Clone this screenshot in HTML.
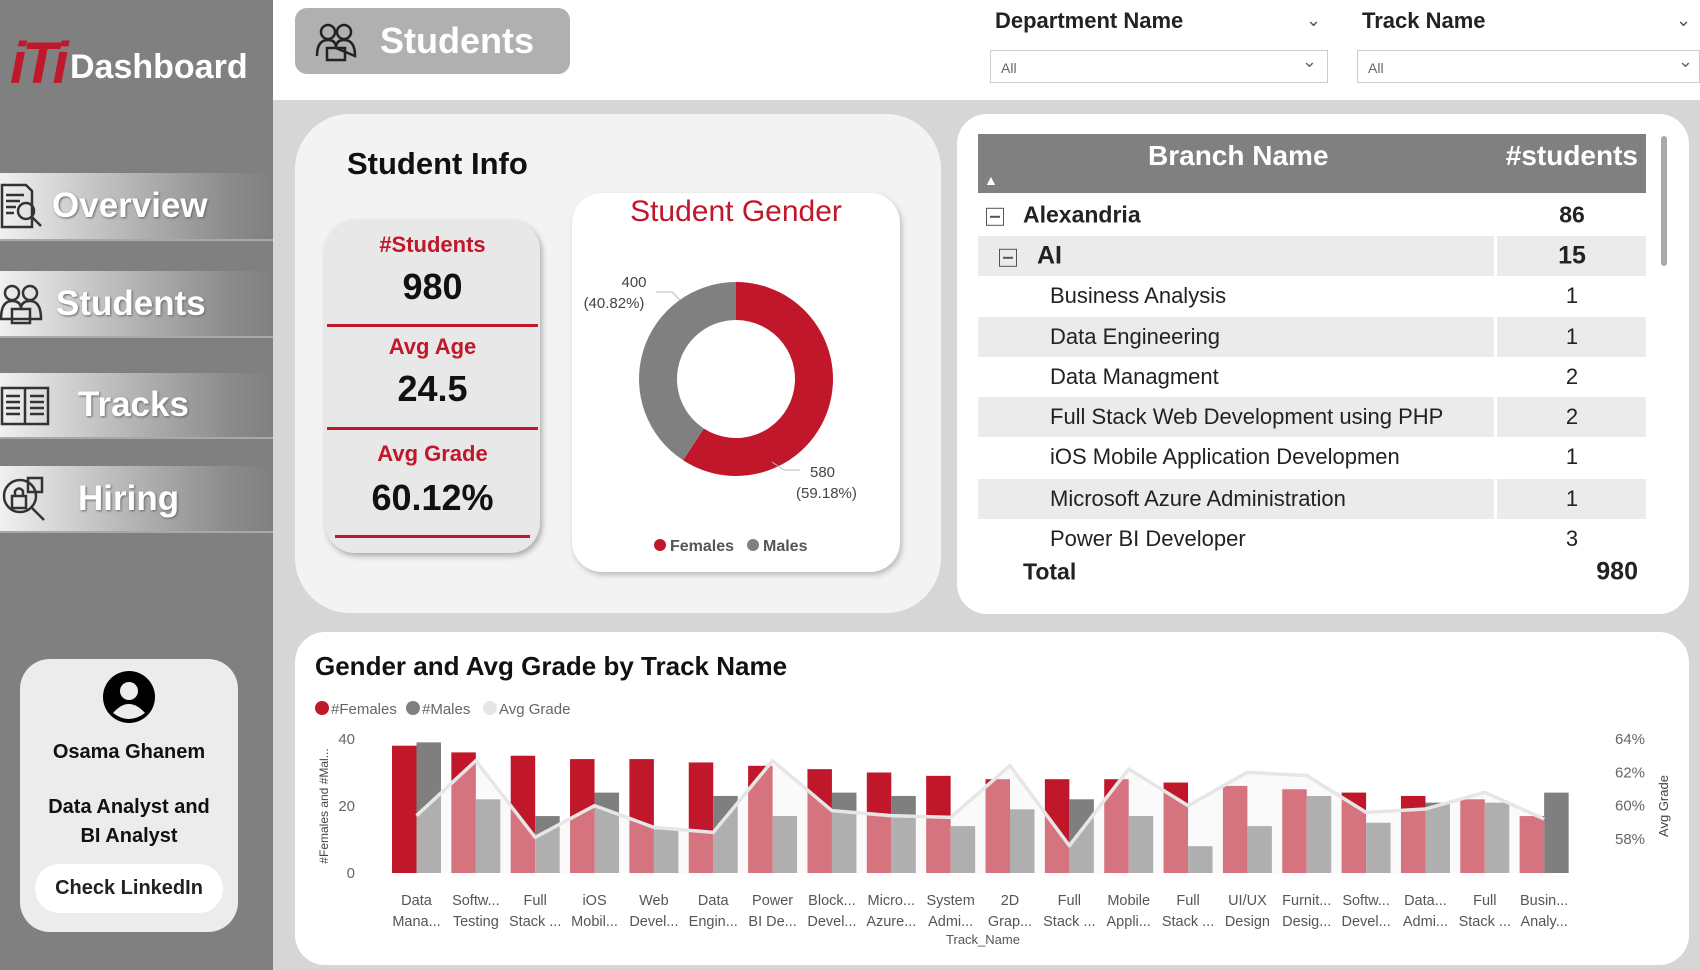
<!DOCTYPE html>
<html><head><meta charset="utf-8"><style>
*{margin:0;padding:0;box-sizing:border-box}
body{width:1700px;height:970px;position:relative;background:#d6d6d6;font-family:"Liberation Sans",sans-serif;overflow:hidden}
.abs{position:absolute}
.nav{position:absolute;left:0;width:273px;background:linear-gradient(90deg,#f0f0f0 0%,#b8b8b8 45%,#8a8a8a 85%,#808080 100%);border-bottom:2px solid #a8a8a8}
.nav span{position:absolute;color:#fff;font-weight:bold;font-size:35px;text-shadow:1px 1px 2px #666;top:50%;transform:translateY(-50%)}
.nav svg{position:absolute;left:0;top:50%;transform:translateY(-50%)}
.row{position:absolute;left:978px;width:668px;height:40px;font-size:22px;color:#222}
.row.g{background:#ebebeb}
.row .t{position:absolute;top:50%;transform:translateY(-50%)}
.row .n{position:absolute;left:1572px;top:50%;transform:translate(-50%,-50%)}
.box{position:absolute;width:18px;height:18px;border:1.5px solid #555;top:50%;transform:translateY(-40%)}
.box:after{content:"";position:absolute;left:3px;right:3px;top:7px;height:1.5px;background:#555}
</style></head><body>
<div class="abs" style="left:0;top:0;width:273px;height:970px;background:#808080"></div>
<div class="abs" style="left:10px;top:30px;font-size:58px;font-weight:bold;color:#c0182a;font-style:italic;letter-spacing:-4px">iTi</div>
<div class="abs" style="left:70px;top:48px;font-size:34px;font-weight:bold;color:#fff">Dashboard</div>
<div class="nav" style="top:173px;height:68px"><svg width="44" height="50" viewBox="0 0 44 50"><g fill="none" stroke="#333" stroke-width="2.5"><path d="M2 4 H26 L32 10 V46 H2Z"/><path d="M6 14H24M6 20H20M6 26H16M6 32H14"/><circle cx="26" cy="30" r="8"/><path d="M32 36 L41 45"/></g></svg><span style="left:52px">Overview</span></div>
<div class="nav" style="top:271px;height:67px"><svg width="44" height="46" viewBox="0 0 44 46"><g fill="none" stroke="#333" stroke-width="2.5"><circle cx="12" cy="12" r="7"/><circle cx="30" cy="12" r="7"/><path d="M1 38 Q1 20 12 20 Q21 20 21 28 Q21 20 30 20 Q41 20 41 38Z"/><rect x="12" y="28" width="18" height="14"/></g></svg><span style="left:56px">Students</span></div>
<div class="nav" style="top:373px;height:66px"><svg width="50" height="46" viewBox="0 0 50 46"><g fill="none" stroke="#333" stroke-width="2.5"><rect x="2" y="6" width="46" height="36"/><path d="M25 6V42M6 14H20M6 20H20M6 26H20M6 32H20M30 14H44M30 20H44M30 26H44M30 32H44"/></g></svg><span style="left:78px">Tracks</span></div>
<div class="nav" style="top:466px;height:67px"><svg width="48" height="50" viewBox="0 0 48 50"><g fill="none" stroke="#333" stroke-width="2.5"><circle cx="20" cy="22" r="16"/><path d="M32 34 L44 46"/><rect x="12" y="22" width="14" height="12"/><path d="M15 22 V17 Q19 12 23 17 V22"/><rect x="28" y="4" width="14" height="14"/></g></svg><span style="left:78px">Hiring</span></div>

<div class="abs" style="left:20px;top:659px;width:218px;height:273px;background:#ececec;border-radius:30px;text-align:center">
 <svg style="position:absolute;left:83px;top:12px" width="52" height="52" viewBox="0 0 52 52"><circle cx="26" cy="26" r="26" fill="#000"/><circle cx="26" cy="20" r="9" fill="#ececec"/><path d="M10 42 Q26 24 42 42 Q26 54 10 42Z" fill="#ececec"/></svg>
 <div style="position:absolute;top:82px;width:100%;font-size:20px;font-weight:bold;color:#111">Osama Ghanem</div>
 <div style="position:absolute;top:134px;width:100%;font-size:20px;font-weight:bold;color:#111;line-height:29px">Data Analyst and<br>BI Analyst</div>
 <div style="position:absolute;left:15px;top:205px;width:188px;height:49px;background:#fff;border-radius:25px;font-size:20px;font-weight:bold;color:#222;line-height:49px">Check LinkedIn</div>
</div>

<div class="abs" style="left:273px;top:0;width:1427px;height:100px;background:#fff"></div>
<div class="abs" style="left:295px;top:8px;width:275px;height:66px;background:#b0b0b0;border-radius:12px">
 <svg style="position:absolute;left:20px;top:14px" width="42" height="40" viewBox="0 0 42 40"><g fill="none" stroke="#222" stroke-width="2.5"><circle cx="13" cy="10" r="7"/><circle cx="29" cy="10" r="7"/><path d="M2 34 Q2 18 13 18 Q21 18 21 26M21 26 Q21 18 29 18 Q40 18 40 34Z"/><rect x="12" y="26" width="18" height="12"/></g></svg>
 <span style="position:absolute;left:85px;top:12px;font-size:36px;font-weight:bold;color:#fff">Students</span>
</div>
<div class="abs" style="left:995px;top:8px;font-size:22px;font-weight:bold;color:#222">Department Name</div>
<div class="abs" style="left:1306px;top:10px;font-size:18px;color:#555">&#8964;</div>
<div class="abs" style="left:990px;top:50px;width:338px;height:33px;border:1px solid #ccc;font-size:14px;color:#666;padding:9px 10px">All<span style="position:absolute;right:10px;top:0px;font-size:18px">&#8964;</span></div>
<div class="abs" style="left:1362px;top:8px;font-size:22px;font-weight:bold;color:#222">Track Name</div>
<div class="abs" style="left:1676px;top:10px;font-size:18px;color:#555">&#8964;</div>
<div class="abs" style="left:1357px;top:50px;width:343px;height:33px;border:1px solid #ccc;font-size:14px;color:#666;padding:9px 10px">All<span style="position:absolute;right:6px;top:0px;font-size:18px">&#8964;</span></div>

<div class="abs" style="left:295px;top:114px;width:646px;height:499px;background:#f3f3f3;border-radius:55px"></div>
<div class="abs" style="left:347px;top:146px;font-size:31px;font-weight:bold;color:#111">Student Info</div>
<div class="abs" style="left:325px;top:220px;width:215px;height:333px;background:#e8e8e8;border-radius:30px;box-shadow:2px 3px 6px #aaa;text-align:center">
 <div style="position:absolute;top:12px;width:100%;font-size:22px;font-weight:bold;color:#c0182a">#Students</div>
 <div style="position:absolute;top:46px;width:100%;font-size:36px;font-weight:bold;color:#111">980</div>
 <div style="position:absolute;top:104px;left:2px;right:2px;height:3px;background:#c0182a"></div>
 <div style="position:absolute;top:114px;width:100%;font-size:22px;font-weight:bold;color:#c0182a">Avg Age</div>
 <div style="position:absolute;top:148px;width:100%;font-size:36px;font-weight:bold;color:#111">24.5</div>
 <div style="position:absolute;top:207px;left:2px;right:2px;height:3px;background:#c0182a"></div>
 <div style="position:absolute;top:221px;width:100%;font-size:22px;font-weight:bold;color:#c0182a">Avg Grade</div>
 <div style="position:absolute;top:257px;width:100%;font-size:36px;font-weight:bold;color:#111">60.12%</div>
 <div style="position:absolute;top:315px;left:10px;right:10px;height:3px;background:#c0182a"></div>
</div>
<div class="abs" style="left:572px;top:193px;width:328px;height:379px;background:#fff;border-radius:30px;box-shadow:2px 3px 6px #bbb"></div>
<div class="abs" style="left:572px;top:195px;width:328px;text-align:center;font-size:30px;color:#c0182a">Student Gender</div>
<svg class="abs" style="left:0;top:0" width="1700" height="970" id="donut"></svg>

<div class="abs" style="left:957px;top:114px;width:732px;height:500px;background:#fff;border-radius:30px"></div>
<div class="abs" style="left:978px;top:134px;width:668px;height:59px;background:#808080">
 <span style="position:absolute;left:170px;top:6px;font-size:28px;font-weight:bold;color:#fff">Branch Name</span>
 <span style="position:absolute;right:8px;top:6px;font-size:28px;font-weight:bold;color:#fff">#students</span>
 <span style="position:absolute;left:6px;top:38px;font-size:14px;color:#fff">&#9650;</span>
</div>
<div class="abs" style="left:1661px;top:136px;width:6px;height:130px;background:#aaa;border-radius:3px"></div>
<div class="row" style="top:195px;font-weight:bold;font-size:23px"><div class="box" style="left:8px"></div><span class="t" style="left:45px">Alexandria</span><span class="n" style="left:594px">86</span></div>
<div class="row g" style="top:236px;font-weight:bold;font-size:25px"><div class="box" style="left:21px"></div><span class="t" style="left:59px">AI</span><span class="n" style="left:594px">15</span></div>
<div class="row" style="top:276px"><span class="t" style="left:72px">Business Analysis</span><span class="n" style="left:594px">1</span></div>
<div class="row g" style="top:317px"><span class="t" style="left:72px">Data Engineering</span><span class="n" style="left:594px">1</span></div>
<div class="row" style="top:357px"><span class="t" style="left:72px">Data Managment</span><span class="n" style="left:594px">2</span></div>
<div class="row g" style="top:397px"><span class="t" style="left:72px">Full Stack Web Development using PHP</span><span class="n" style="left:594px">2</span></div>
<div class="row" style="top:437px"><span class="t" style="left:72px">iOS Mobile Application Developmen</span><span class="n" style="left:594px">1</span></div>
<div class="row g" style="top:479px"><span class="t" style="left:72px">Microsoft Azure Administration</span><span class="n" style="left:594px">1</span></div>
<div class="row" style="top:519px"><span class="t" style="left:72px">Power BI Developer</span><span class="n" style="left:594px">3</span></div>
<div class="row" style="top:552px;font-weight:bold;font-size:23px"><span class="t" style="left:45px">Total</span><span class="t" style="right:8px;font-size:25px">980</span></div>
<div class="abs" style="left:1494px;top:236px;width:3px;height:40px;background:#fff"></div>
<div class="abs" style="left:1494px;top:317px;width:3px;height:40px;background:#fff"></div>
<div class="abs" style="left:1494px;top:397px;width:3px;height:40px;background:#fff"></div>
<div class="abs" style="left:1494px;top:479px;width:3px;height:40px;background:#fff"></div>

<div class="abs" style="left:295px;top:632px;width:1394px;height:333px;background:#fff;border-radius:30px"></div>
<div class="abs" style="left:315px;top:651px;font-size:26px;font-weight:bold;color:#111">Gender and Avg Grade by Track Name</div>
<svg class="abs" style="left:0;top:0" width="1700" height="970" id="chart"></svg>

<script>
const genderLabels=["Females","Males"];
const genderValues=[580,400];
const genderPct=["59.18%","40.82%"];

const categories1=["Data","Softw...","Full","iOS","Web","Data","Power","Block...","Micro...","System","2D","Full","Mobile","Full","UI/UX","Furnit...","Softw...","Data...","Full","Busin..."];
const categories2=["Mana...","Testing","Stack ...","Mobil...","Devel...","Engin...","BI De...","Devel...","Azure...","Admi...","Grap...","Stack ...","Appli...","Stack ...","Design","Desig...","Devel...","Admi...","Stack ...","Analy..."];
const females=[38,36,35,34,34,33,32,31,30,29,28,28,28,27,26,25,24,23,22,17];
const males=[39,22,17,24,13,23,17,24,23,14,19,22,17,8,14,23,15,21,21,24];
const avgGrade=[59.4,62.7,58.1,60.0,58.7,58.4,62.7,59.7,59.4,59.3,62.4,57.6,62.2,60.0,62.0,61.8,59.6,59.8,60.8,59.2];
const leftTicks=[0,20,40];
const rightTicks=[58,60,62,64];

const NS="http://www.w3.org/2000/svg";
function mk(parent,tag,attrs,text){const e=document.createElementNS(NS,tag);for(const k in attrs)e.setAttribute(k,attrs[k]);if(text!==undefined)e.textContent=text;parent.appendChild(e);return e;}

const d=document.getElementById('donut');
const cx=736,cy=379,R=97,r=59;
const total=genderValues.reduce((a,b)=>a+b,0);
const colors=["#c0182a","#808080"];
let ang=-Math.PI/2;
genderValues.forEach((v,i)=>{
 const a2=ang+v/total*2*Math.PI;const large=(a2-ang)>Math.PI?1:0;
 const p=`M${cx+R*Math.cos(ang)} ${cy+R*Math.sin(ang)} A${R} ${R} 0 ${large} 1 ${cx+R*Math.cos(a2)} ${cy+R*Math.sin(a2)} L${cx+r*Math.cos(a2)} ${cy+r*Math.sin(a2)} A${r} ${r} 0 ${large} 0 ${cx+r*Math.cos(ang)} ${cy+r*Math.sin(ang)}Z`;
 const s=mk(d,'path',{d:p,fill:colors[i]});
 
 
 ang=a2;
});
const lab1=mk(d,'text',{x:810,y:477,'font-size':15,fill:'#444','text-anchor':'start'},String(genderValues[0]));


mk(d,'text',{x:796,y:498,'font-size':15,fill:'#444'},'('+genderPct[0]+')');
const lab2=mk(d,'text',{x:634,y:287,'font-size':15,fill:'#444','text-anchor':'middle'},String(genderValues[1]));


mk(d,'text',{x:614,y:308,'font-size':15,fill:'#444','text-anchor':'middle'},'('+genderPct[1]+')');
mk(d,'path',{d:'M656 292 L672 292 L680 300',stroke:'#bbb',fill:'none'});
mk(d,'path',{d:'M772 462 L784 470 L800 470',stroke:'#bbb',fill:'none'});
mk(d,'circle',{cx:660,cy:545,r:6,fill:colors[0]});
mk(d,'text',{x:670,y:551,'font-size':16,'font-weight':'bold',fill:'#555'},genderLabels[0]);
mk(d,'circle',{cx:753,cy:545,r:6,fill:colors[1]});
mk(d,'text',{x:763,y:551,'font-size':16,'font-weight':'bold',fill:'#555'},genderLabels[1]);

const c=document.getElementById('chart');
const y0=873,yTop=739,xStart=392,step=(1579-392)/categories1.length,bw=24.5;
const yL=v=>y0-v*(y0-yTop)/40;
const yR=p=>839-(p-58)*(839-739)/6;
const xC=i=>xStart+i*step;
[["#c0182a","#Females"],["#808080","#Males"],["#e6e6e6","Avg Grade"]].forEach((l,i)=>{
 const lx=[322,413,490][i];
 mk(c,'circle',{cx:lx,cy:708,r:7,fill:l[0]});
 const t=mk(c,'text',{x:lx+9,y:714,'font-size':15,fill:'#666'},l[1]);
 
 
});
leftTicks.forEach(v=>{mk(c,'text',{x:355,y:yL(v)+5,'font-size':15,fill:'#666','text-anchor':'end'},String(v));});
rightTicks.forEach(v=>{mk(c,'text',{x:1615,y:yR(v)+5,'font-size':15,fill:'#666'},v+'%');});
const yt=mk(c,'text',{x:0,y:0,'font-size':12,fill:'#444',transform:'translate(328,806) rotate(-90)','text-anchor':'middle'},'#Females and #Mal...');


const yt2=mk(c,'text',{x:0,y:0,'font-size':13,fill:'#444',transform:'translate(1668,806) rotate(-90)','text-anchor':'middle'},'Avg Grade');


categories1.forEach((cat,i)=>{
 const x=xC(i);
 const bf=mk(c,'rect',{x:x,y:yL(females[i]),width:bw,height:y0-yL(females[i]),fill:'#c0182a'});
 
 
 const bm=mk(c,'rect',{x:x+bw,y:yL(males[i]),width:bw,height:y0-yL(males[i]),fill:'#7f7f7f'});
 
 
 mk(c,'text',{x:x+bw,y:905,'font-size':14.5,fill:'#555','text-anchor':'middle'},cat);
 mk(c,'text',{x:x+bw,y:926,'font-size':14.5,fill:'#555','text-anchor':'middle'},categories2[i]);
});
let pts=avgGrade.map((g,i)=>[xC(i)+bw,yR(g)]);
let area=`M${pts[0][0]} ${y0} `+pts.map(p=>`L${p[0]} ${p[1]}`).join(' ')+` L${pts[pts.length-1][0]} ${y0}Z`;
mk(c,'path',{d:area,fill:'#f2f2f2','fill-opacity':0.42});
const ln=mk(c,'path',{d:'M'+pts.map(p=>p[0]+' '+p[1]).join(' L'),fill:'none',stroke:'#e6e6e6','stroke-width':3.5,'stroke-linejoin':'round'});


const xt=mk(c,'text',{x:983,y:944,'font-size':13,fill:'#555','text-anchor':'middle'},'Track_Name');


</script>
</body></html>
